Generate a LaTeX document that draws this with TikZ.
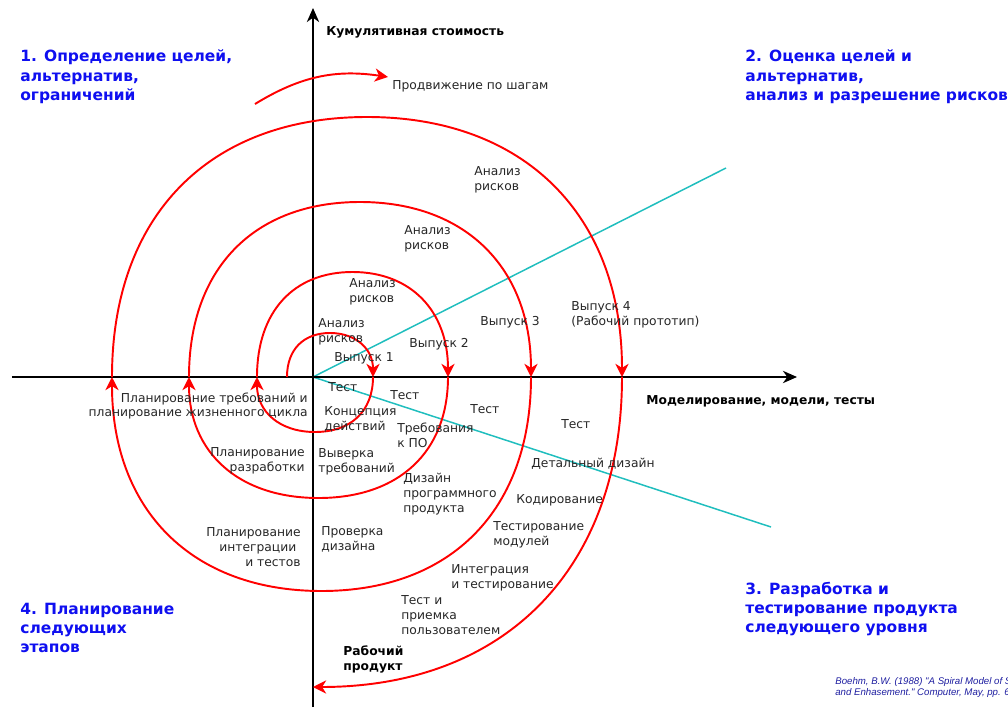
\documentclass[tikz,border=0pt]{standalone}
\usepackage{fontspec}
\setmainfont{DejaVu Sans}
\newfontfamily\citefont{Liberation Sans}
\usetikzlibrary{arrows.meta}
\definecolor{quadline}{RGB}{32,190,190}
\definecolor{phaseblue}{RGB}{15,15,240}
\definecolor{citeblue}{RGB}{30,30,160}
\def\spiralk{0.62}
% half a turn of the spiral: from x=#2 to x=#3 on the axis, apex at height #4
\def\halfturn[#1](#2:#3:#4){\draw[#1] (#2,0) .. controls (#2,{\spiralk*(#4)}) and ({((#2)+(#3))/2-\spiralk*((#3)-(#2))/2},#4) .. ({((#2)+(#3))/2},#4) .. controls ({((#2)+(#3))/2+\spiralk*((#3)-(#2))/2},#4) and (#3,{\spiralk*(#4)}) .. (#3,0);}

\begin{document}
\begin{tikzpicture}[x=0.02cm, y=0.02cm,
		spiral/.style={red, line width=1.1pt},
		spiralend/.style={spiral, -{Stealth[length=7.5pt, width=7.5pt, inset=2.3pt]}},
		axis/.style={black, line width=1.1pt, -{Stealth[length=8pt, width=7pt, inset=2.5pt]}},
		lbl/.style={font=\fontsize{7}{8.5}\selectfont, text=black!85, inner sep=0pt, align=left, anchor=west},
		lblr/.style={lbl, align=right, anchor=east},
		axislbl/.style={lbl, font=\fontsize{7}{8.5}\selectfont\bfseries, text=black},
		phase/.style={font=\fontsize{8.8}{11}\selectfont\bfseries, text=phaseblue, inner sep=0pt, align=left, anchor=west}]
				\useasboundingbox (-313,-330) rectangle (695,377);
				
				\draw[quadline, line width=0.85pt] (0,0) -- (413,209);
				\draw[quadline, line width=0.85pt] (0,0) -- (458,-150);
				
				\draw[axis] (0,-330) -- (0,369);
				\draw[axis] (-301,0) -- (484,0);
				
				\halfturn[spiralend](-26:60:44);
				\halfturn[spiralend](60:-56:-55);
				\halfturn[spiralend](-56:135:105);
				\halfturn[spiralend](135:-124:-121);
				\halfturn[spiralend](-124:218:175);
				\halfturn[spiralend](218:-201:-214);
				\halfturn[spiralend](-201:309:260);
				\draw[spiralend] (309,0) .. controls (309,{-\spiralk*310}) and ({\spiralk*309},-310) .. (0,-310);
				
				\draw[spiralend] (-58,273) to[bend left=20] (75,300);
				
				\node[axislbl] (cost) at (13,345) {Кумулятивная стоимость};
				\node[axislbl] (model) at (333,-24) {Моделирование, модели, тесты};
				\node[lbl] (steps) at (79,291) {Продвижение по шагам};
				
				\node[phase] (goals) at (-293,300) {1. Определение целей,\\альтернатив,\\ограничений};
				\node[phase] (eval) at (432,300) {2. Оценка целей и\\альтернатив,\\анализ и разрешение рисков};
				\node[phase] (devel) at (432,-232) {3. Разработка и\\тестирование продукта\\следующего уровня};
				\node[phase] (plan) at (-293,-251) {4. Планирование\\следующих\\этапов};
				
				\node[lbl] (risk4) at (161,197) {Анализ\\рисков};
				\node[lbl] (risk3) at (91,138.5) {Анализ\\рисков};
				\node[lbl] (risk2) at (36,85.5) {Анализ\\рисков};
				\node[lbl] (risk1) at (5,45.5) {Анализ\\рисков};
				
				\node[lbl] (rel1) at (21,19) {Выпуск 1};
				\node[lbl] (rel2) at (96,33) {Выпуск 2};
				\node[lbl] (rel3) at (167,55) {Выпуск 3};
				\node[lbl] (rel4) at (258,62.5) {Выпуск 4\\(Рабочий прототип)};
				
				\node[lbl] (test1) at (15,-10) {Тест};
				\node[lbl] (test2) at (77,-18) {Тест};
				\node[lbl] (test3) at (157,-32) {Тест};
				\node[lbl] (test4) at (248,-47) {Тест};
				
				\node[lblr] (plan1) at (-5,-29) {Планирование требований и\\планирование жизненного цикла};
				\node[lblr] (plan2) at (-8,-84) {Планирование\\разработки};
				\node[lblr] (plan3) at (-12,-170) {Планирование\\интеграции\kern0.35em\\и тестов};
				
				\node[lbl] (concept) at (11,-42.5) {Концепция\\действий};
				\node[lbl] (reqs) at (84,-58) {Требования\\к ПО};
				\node[lbl] (reqcheck) at (5,-84.5) {Выверка\\требований};
				\node[lbl] (detail) at (218,-87) {Детальный дизайн};
				\node[lbl] (design) at (90,-117.5) {Дизайн\\программного\\продукта};
				\node[lbl] (coding) at (203,-123) {Кодирование};
				\node[lbl] (unittest) at (180,-158) {Тестирование\\модулей};
				\node[lbl] (designcheck) at (8,-162.5) {Проверка\\дизайна};
				\node[lbl] (integ) at (138,-201) {Интеграция\\и тестирование};
				\node[lbl] (accept) at (88,-238.5) {Тест и\\приемка\\пользователем};
				\node[axislbl] (product) at (30,-282.5) {Рабочий\\продукт};
				
				\node[inner sep=0pt, anchor=west, align=left, text=citeblue, font=\citefont\itshape\fontsize{5.5}{6.2}\selectfont] (cite) at (522,-310.5) {Boehm, B.W. (1988) "A Spiral Model of Software Development\\and Enhasement." Computer, May, pp. 61-72.};
			\end{tikzpicture}
\end{document}
